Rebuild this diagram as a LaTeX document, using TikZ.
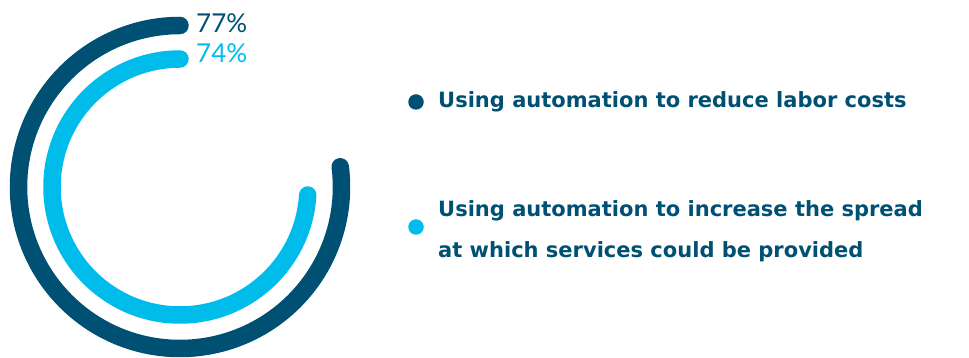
\documentclass[tikz,border=0pt]{standalone}
\usepackage{fontspec}
\usepackage{xcolor}
\setmainfont{DejaVu Sans}
\newfontfamily\pctfont{Lato}
\definecolor{darkblue}{HTML}{005073}
\definecolor{lightblue}{HTML}{00BCEB}

\begin{document}
\begin{tikzpicture}
    [x=1pt,y=1pt,
    ring/.style={line cap=round,line width=17.5pt},
    dot/.style={circle,inner sep=0pt,minimum size=15.5pt},
    pct/.style={anchor=base west,inner sep=0pt,font=\pctfont\fontsize{26}{26}\selectfont},
    legend/.style={anchor=base west,inner sep=0pt,align=left,text=darkblue,
        font=\bfseries\fontsize{21}{41}\selectfont}]

\useasboundingbox (0,0) rectangle (969,358);

%rings, both start at the top and run counterclockwise
\coordinate (centre) at (180,171);
\draw[ring,darkblue] (centre) ++(90:161.5) arc (90:367.2:161.5);
\draw[ring,lightblue] (centre) ++(90:128) arc (90:356.4:128);

%percentages
\node[pct,text=darkblue] (pctA) at (196,325) {77\%};
\node[pct,text=lightblue] (pctB) at (196,295) {74\%};

%legend
\node[dot,fill=darkblue] (dotA) at (416,256) {};
\node[legend] (itemA) at (438,250) {Using automation to reduce labor costs};
\node[dot,fill=lightblue] (dotB) at (416,131) {};
\node[legend] (itemB) at (438,100) {Using automation to increase the spread\\at which services could be provided};

\end{tikzpicture}
\end{document}
